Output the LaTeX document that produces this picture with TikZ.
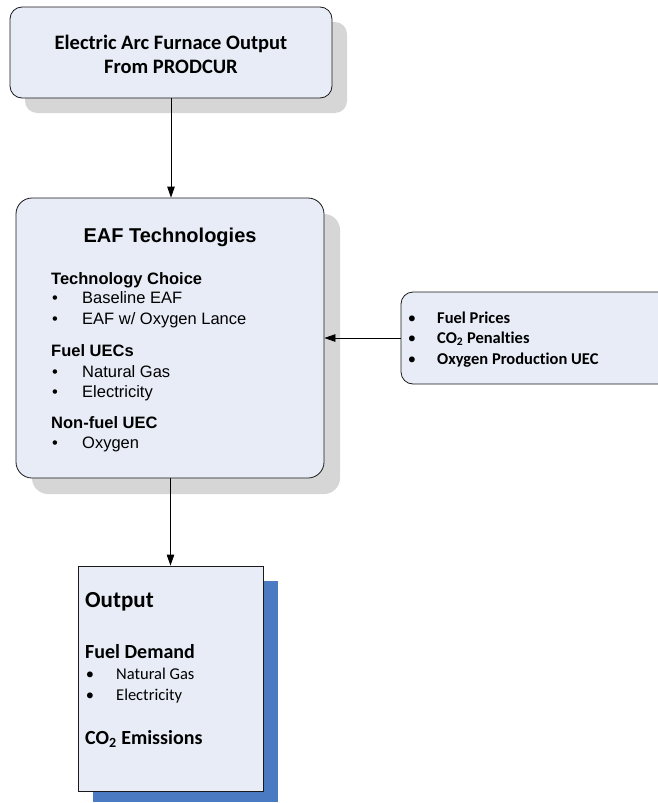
\documentclass[tikz,border=0pt]{standalone}
\usepackage{fontspec}
\setmainfont[Ligatures=NoCommon]{Carlito}
\newfontfamily\arialfont{Liberation Sans}
\usetikzlibrary{calc,arrows.meta}

\definecolor{boxfill}{HTML}{E7ECF6}
\definecolor{shadowgray}{HTML}{D6D6D6}
\definecolor{shadowblue}{HTML}{4A7AC2}
\definecolor{edgeclr}{HTML}{1A1A1A}

\tikzset{
  box/.style={draw=edgeclr, fill=boxfill, line width=0.8pt, inner sep=0pt},
  link/.style={draw=black, line width=0.8pt, -{Triangle[length=11pt,width=7.5pt]}},
  calhead/.style={anchor=base west, inner sep=0pt, font=\bfseries\fontsize{20}{24}\selectfont},
  calitem/.style={anchor=base west, inner sep=0pt, font=\fontsize{16.5}{20}\selectfont},
  arhead/.style={anchor=base west, inner sep=0pt, font=\arialfont\bfseries\fontsize{16.5}{20}\selectfont},
  aritem/.style={anchor=base west, inner sep=0pt, font=\arialfont\fontsize{16.5}{20}\selectfont},
  dot/.style={anchor=base, inner sep=0pt}
}

\begin{document}
\begin{tikzpicture}[x=1pt,y=-1pt]
  \useasboundingbox (0,0) rectangle (657,803);

  %% Shadows behind the boxes
  \fill[shadowgray, rounded corners=12pt] (25,22) rectangle (347,113);
  \fill[shadowgray, rounded corners=16pt] (32,214) rectangle (340,494);
  \fill[shadowblue] (93,581) rectangle (278,802);

  %% The boxes
  \node[box, rounded corners=12pt, minimum width=322pt, minimum height=91pt] (prodcur) at (171,52.5) {};
  \node[box, rounded corners=16pt, minimum width=308pt, minimum height=280pt] (eaf) at (170,338) {};
  \node[box, rounded corners=12pt, minimum width=271pt, minimum height=92pt] (prices) at (536.5,338) {};
  \node[box, minimum width=185pt, minimum height=225pt] (output) at (170.5,678.5) {};

  %% Texts of the top box
  \node[anchor=base, inner sep=0pt, font=\bfseries\fontsize{20.5}{24}\selectfont] (prodcurA) at (171,49) {Electric Arc Furnace Output};
  \node[anchor=base, inner sep=0pt, font=\bfseries\fontsize{20.5}{24}\selectfont] (prodcurB) at (171,73) {From PRODCUR};

  %% Texts of the EAF box
  \node[anchor=base, inner sep=0pt, font=\arialfont\bfseries\fontsize{20}{24}\selectfont] (eaftitle) at (170,242) {EAF Technologies};
  \node[arhead] (choice) at (51,284) {Technology Choice};
  \node[arhead] (fueluec) at (51,356) {Fuel UECs};
  \node[arhead] (nonfuel) at (51,428) {Non-fuel UEC};
  \foreach \y/\txt [count=\i] in {303/Baseline EAF, 324/EAF w{/} Oxygen Lance, 377/Natural Gas, 397/Electricity, 448/Oxygen}
  {
    \node[dot, font=\arialfont\fontsize{16.5}{20}\selectfont] (eafdot\i) at (55,\y) {•};
    \node[aritem] (eafitem\i) at (82,\y) {\txt};
  }

  %% Texts of the prices box
  \foreach \y/\txt [count=\i] in {323/Fuel Prices, 343/CO\textsubscript{2} Penalties, 364/Oxygen Production UEC}
  {
    \node[dot, font=\fontsize{16.5}{20}\selectfont] (pricedot\i) at (412,\y) {•};
    \node[calitem, font=\bfseries\fontsize{16.5}{20}\selectfont] (priceitem\i) at (437,\y) {\txt};
  }

  %% Texts of the output box
  \node[calhead, font=\bfseries\fontsize{23}{28}\selectfont] (outtitle) at (85,607) {Output};
  \node[calhead] (demand) at (85,658) {Fuel Demand};
  \foreach \y/\txt [count=\i] in {679/Natural Gas, 700/Electricity}
  {
    \node[dot, font=\fontsize{16.5}{20}\selectfont] (outdot\i) at (90,\y) {•};
    \node[calitem] (outitem\i) at (116,\y) {\txt};
  }
  \node[calhead] (emissions) at (85,744) {CO\textsubscript{2} Emissions};

  %% Connectors
  \draw[link] (prodcur.south) -- (prodcur.south |- eaf.north);
  \draw[link] (prices.west) -- (eaf.east);
  \draw[link] (output.north |- eaf.south) -- (output.north);
\end{tikzpicture}
\end{document}
